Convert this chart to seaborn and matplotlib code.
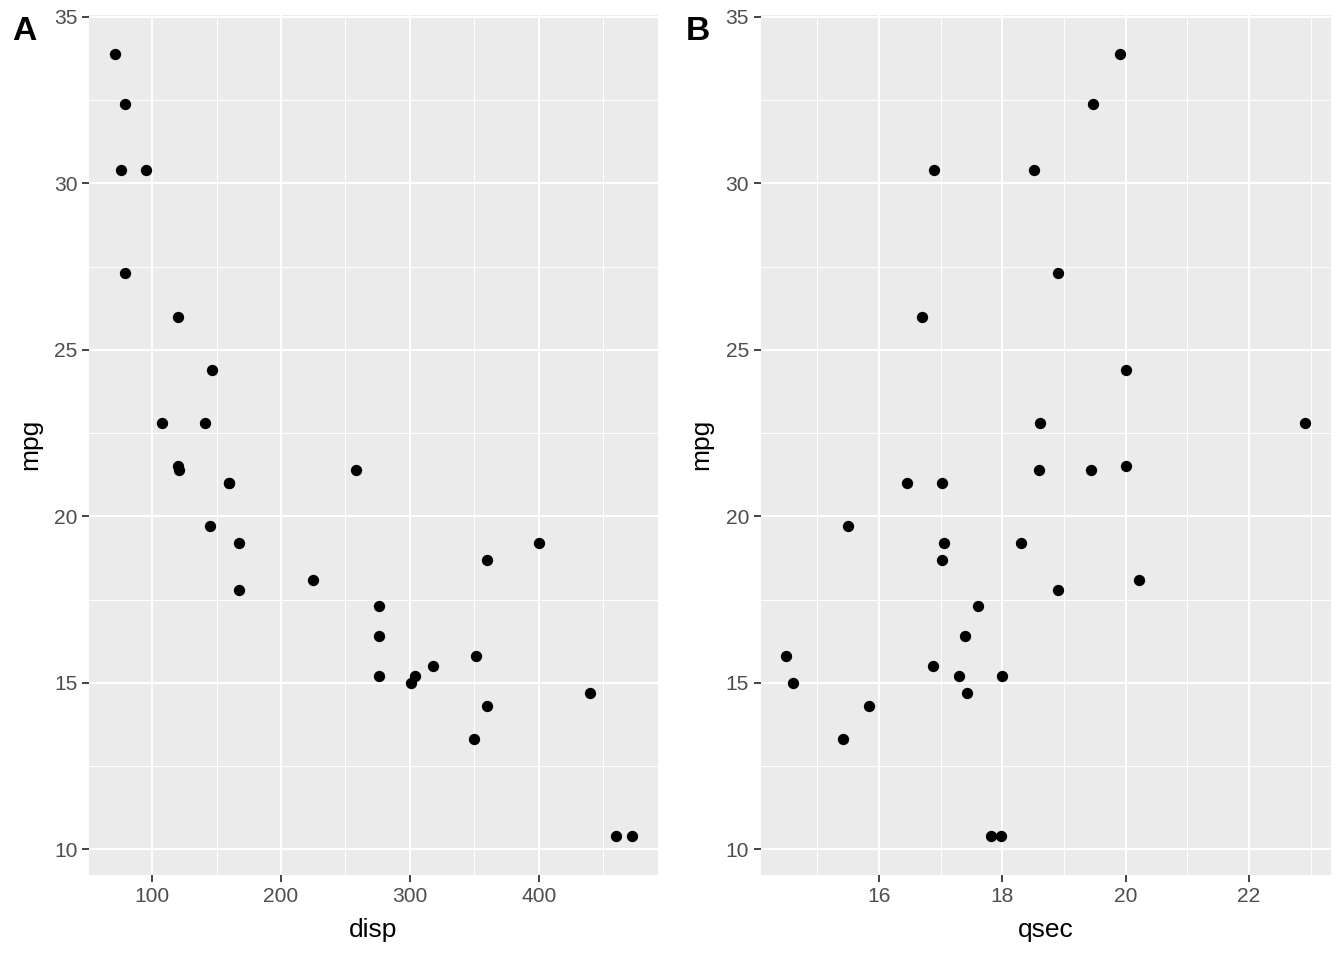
import matplotlib
matplotlib.use("Agg")
import matplotlib.pyplot as plt
from matplotlib.ticker import MultipleLocator
import seaborn as sns
import pandas as pd

# mtcars values
mpg = [21.0, 21.0, 22.8, 21.4, 18.7, 18.1, 14.3, 24.4, 22.8, 19.2, 17.8, 16.4, 17.3, 15.2, 10.4, 10.4,
       14.7, 32.4, 30.4, 33.9, 21.5, 15.5, 15.2, 13.3, 19.2, 27.3, 26.0, 30.4, 15.8, 19.7, 15.0, 21.4]
disp = [160, 160, 108, 258, 360, 225, 360, 146.7, 140.8, 167.6, 167.6, 275.8, 275.8, 275.8, 472, 460,
        440, 78.7, 75.7, 71.1, 120.1, 318, 304, 350, 400, 79, 120.3, 95.1, 351, 145, 301, 121]
qsec = [16.46, 17.02, 18.61, 19.44, 17.02, 20.22, 15.84, 20.00, 22.90, 18.30, 18.90, 17.40, 17.60, 18.00,
        17.98, 17.82, 17.42, 19.47, 18.52, 19.90, 20.01, 16.87, 17.30, 15.41, 17.05, 18.90, 16.70, 16.90,
        14.50, 15.50, 14.60, 18.60]

df = pd.DataFrame({"mpg": mpg, "disp": disp, "qsec": qsec})

sns.set_style("darkgrid")
plt.rcParams["font.family"] = ["Liberation Sans", "DejaVu Sans"]

fig = plt.figure(figsize=(1344 / 144, 960 / 144), dpi=144)
top, bottom = 14.5, 875
axA = fig.add_axes([89 / 1344, 1 - bottom / 960, (657.5 - 89) / 1344, (bottom - top) / 960])
axB = fig.add_axes([760.5 / 1344, 1 - bottom / 960, (1330.5 - 760.5) / 1344, (bottom - top) / 960])


def style(ax, col, major, minor):
    sns.scatterplot(data=df, x=col, y="mpg", ax=ax, color="black", s=32, linewidth=0, zorder=3)
    lo, hi = df[col].min(), df[col].max()
    pad = (hi - lo) * 0.05
    ax.set_xlim(lo - pad, hi + pad)
    ylo, yhi = df["mpg"].min(), df["mpg"].max()
    ypad = (yhi - ylo) * 0.05
    ax.set_ylim(ylo - ypad, yhi + ypad)
    ax.set_facecolor("#EBEBEB")
    ax.xaxis.set_major_locator(MultipleLocator(major))
    ax.xaxis.set_minor_locator(MultipleLocator(minor))
    ax.yaxis.set_major_locator(MultipleLocator(5))
    ax.yaxis.set_minor_locator(MultipleLocator(2.5))
    ax.grid(which="major", color="white", linewidth=1.0)
    ax.grid(which="minor", color="white", linewidth=0.5)
    ax.set_axisbelow(True)
    for s in ax.spines.values():
        s.set_visible(False)
    ax.tick_params(which="major", bottom=True, left=True, length=3.3, width=0.9, color="#333333",
                   labelsize=10.5, labelcolor="#4D4D4D", pad=2.5)
    ax.tick_params(which="minor", length=0)
    ax.set_xlabel(col, fontsize=13.2, labelpad=6, color="black")
    ax.set_ylabel("mpg", fontsize=13.2, labelpad=6, color="black")


style(axA, "disp", 100, 50)
style(axB, "qsec", 2, 1)

fig.text(12 / 1344, 1 - 31 / 960, "A", fontsize=16.8, fontweight="bold", ha="left", va="center", color="black")
fig.text(686 / 1344, 1 - 31 / 960, "B", fontsize=16.8, fontweight="bold", ha="left", va="center", color="black")

fig.savefig("out.png", dpi=144)
